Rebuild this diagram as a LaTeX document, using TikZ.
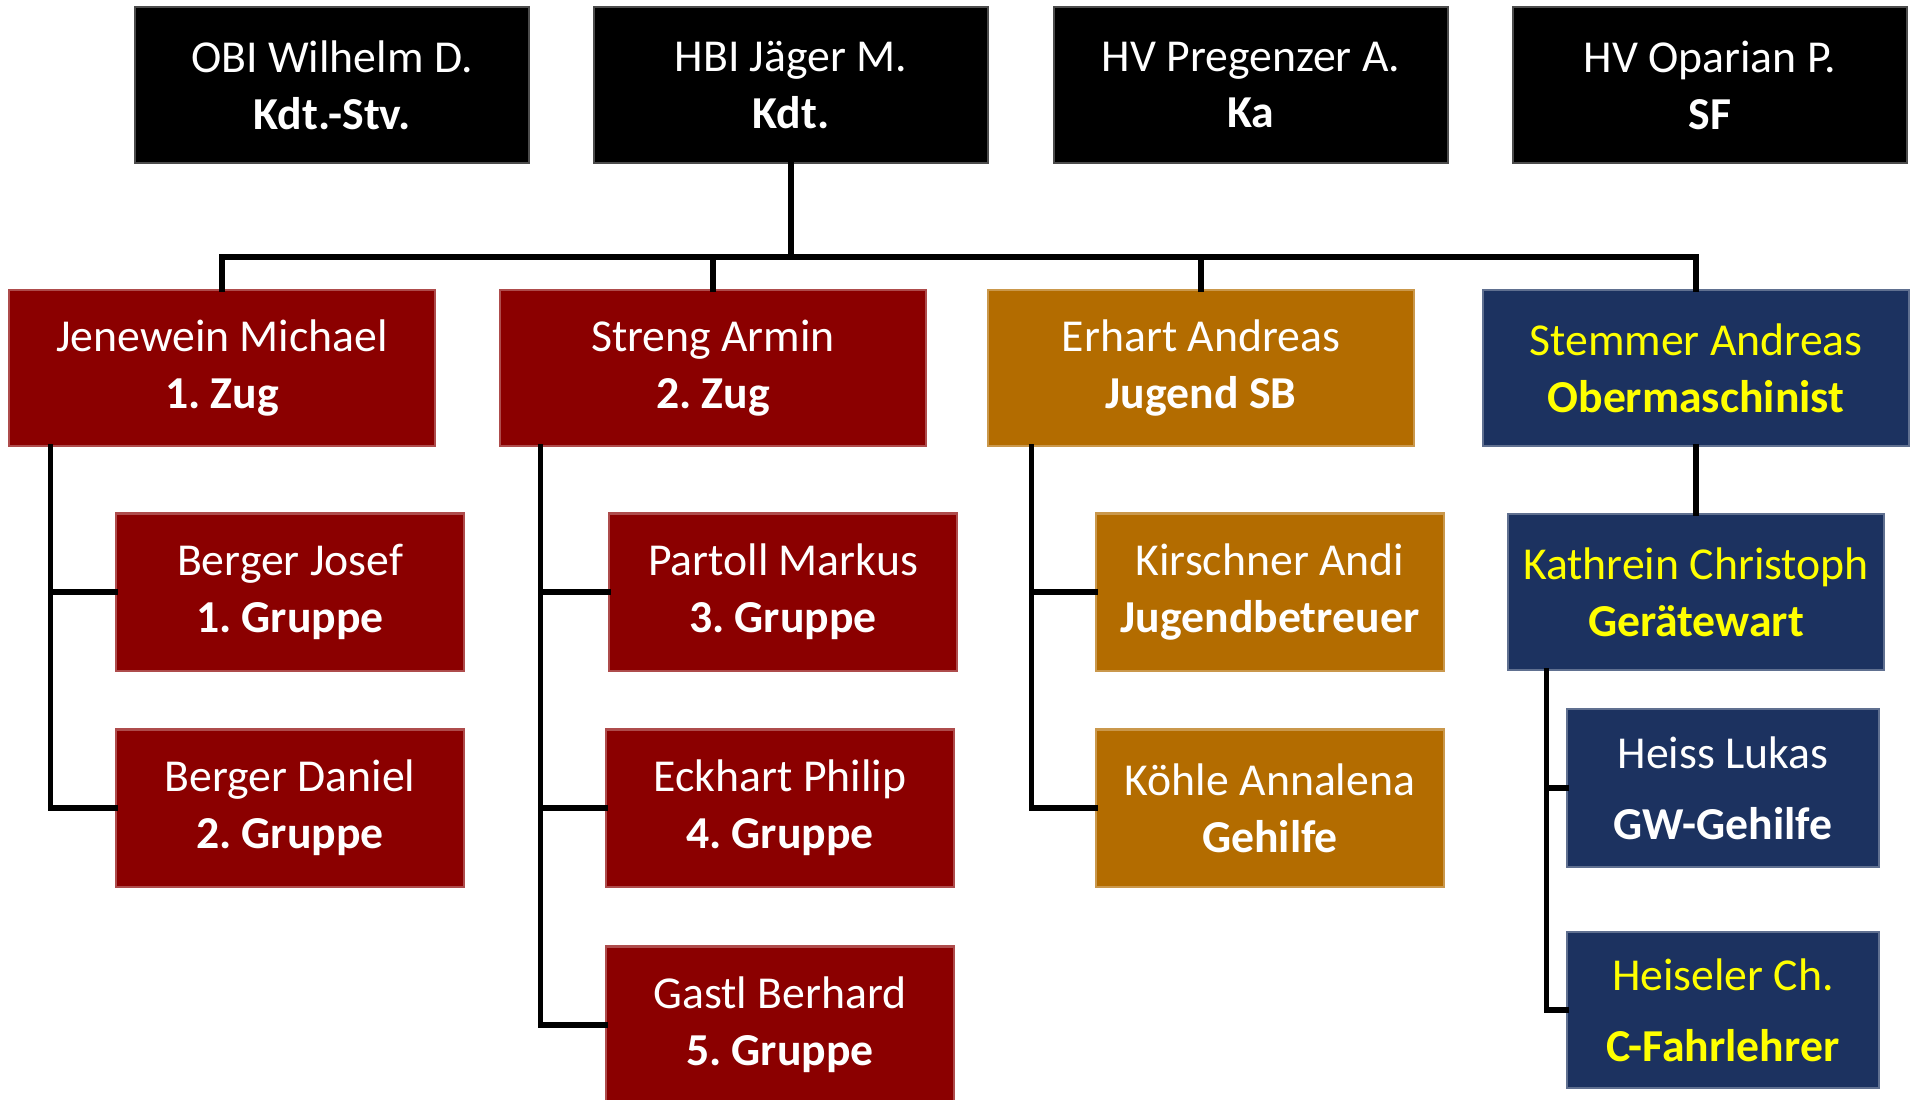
\documentclass[tikz,border=0pt]{standalone}
\usepackage{fontspec}
\setmainfont{Carlito}
\usepackage{tikz}
\frenchspacing

\definecolor{zugrot}{RGB}{139,0,0}
\definecolor{jugendbraun}{RGB}{179,108,0}
\definecolor{maschblau}{RGB}{28,50,96}
\definecolor{schriftgelb}{RGB}{255,255,0}

\begin{document}
\begin{tikzpicture}[x=0.01cm,y=-0.01cm,
  kasten/.style={fill=#1,draw=#1!70!white,line width=0.6pt,inner sep=0pt,
    align=center,text=white,font=\fontsize{13}{16.2}\selectfont},
  oben/.style={kasten=black,minimum width=3.93cm,minimum height=1.56cm},
  zug/.style={kasten=#1,minimum width=4.25cm,minimum height=1.56cm},
  gruppe/.style={kasten=#1,minimum width=3.47cm,minimum height=1.57cm},
  verb/.style={line width=1.6pt,line cap=rect}]

\useasboundingbox (0,0) rectangle (1911,1099);

% Kommando
\foreach \n/\x/\wer/\was in {obi/332/OBI Wilhelm D./Kdt.-Stv., hbi/791/HBI Jäger M./Kdt.,
  ka/1251/HV Pregenzer A./Ka, sf/1710/HV Oparian P./SF} {
\node[oben] (\n) at (\x,85) {\wer\\\textbf{\was}};
}

% Zuege
\node[zug=zugrot] (zug1) at (222,368) {Jenewein Michael\\\textbf{1. Zug}};
\node[zug=zugrot] (zug2) at (713,368) {Streng Armin\\\textbf{2. Zug}};
\node[zug=jugendbraun] (jsb) at (1201,368) {Erhart Andreas\\\textbf{Jugend SB}};
\node[zug=maschblau,text=schriftgelb] (om) at (1696,368) {Stemmer Andreas\\\textbf{Obermaschinist}};

\coordinate (bus) at (hbi.south |- 0,257);
\draw[verb] (hbi.south) -- (bus);
\draw[verb] (zug1.north) |- (bus) -| (om.north);
\draw[verb] (zug2.north) -- (zug2.north |- bus);
\draw[verb] (jsb.north) -- (jsb.north |- bus);

% Gruppen
\node[gruppe=zugrot] (g1) at (290,592) {Berger Josef\\\textbf{1. Gruppe}};
\node[gruppe=zugrot] (g2) at (290,808) {Berger Daniel\\\textbf{2. Gruppe}};
\node[gruppe=zugrot] (g3) at (783,592) {Partoll Markus\\\textbf{3. Gruppe}};
\node[gruppe=zugrot] (g4) at (780,808) {Eckhart Philip\\\textbf{4. Gruppe}};
\node[gruppe=zugrot] (g5) at (780,1025) {Gastl Berhard\\\textbf{5. Gruppe}};
\node[gruppe=jugendbraun] (jb) at (1270,592) {Kirschner Andi\\\textbf{Jugendbetreuer}};
\node[gruppe=jugendbraun] (jh) at (1270,808) {Köhle Annalena\\\textbf{Gehilfe}};
\node[kasten=maschblau,text=schriftgelb,minimum width=3.75cm,minimum height=1.56cm]
  (gw) at (1696,592) {Kathrein Christoph\\\textbf{Gerätewart}};
\node[kasten=maschblau,minimum width=3.12cm,minimum height=1.58cm]
  (gwh) at (1723,788) {Heiss Lukas\\[0.14cm]\textbf{GW-Gehilfe}};
\node[kasten=maschblau,text=schriftgelb,minimum width=3.12cm,minimum height=1.56cm]
  (cf) at (1723,1010) {Heiseler Ch.\\[0.14cm]\textbf{C-Fahrlehrer}};

\coordinate (s1) at ([xshift=0.42cm]zug1.south west);
\coordinate (s2) at ([xshift=0.41cm]zug2.south west);
\coordinate (s3) at ([xshift=0.44cm]jsb.south west);
\coordinate (s4) at ([xshift=0.39cm]gw.south west);

\foreach \g in {g1,g2} {\draw[verb] (s1) |- (\g.west);}
\foreach \g in {g3,g4,g5} {\draw[verb] (s2) |- (\g.west);}
\foreach \g in {jb,jh} {\draw[verb] (s3) |- (\g.west);}
\foreach \g in {gwh,cf} {\draw[verb] (s4) |- (\g.west);}
\draw[verb] (om.south) -- (gw.north);
\end{tikzpicture}
\end{document}
